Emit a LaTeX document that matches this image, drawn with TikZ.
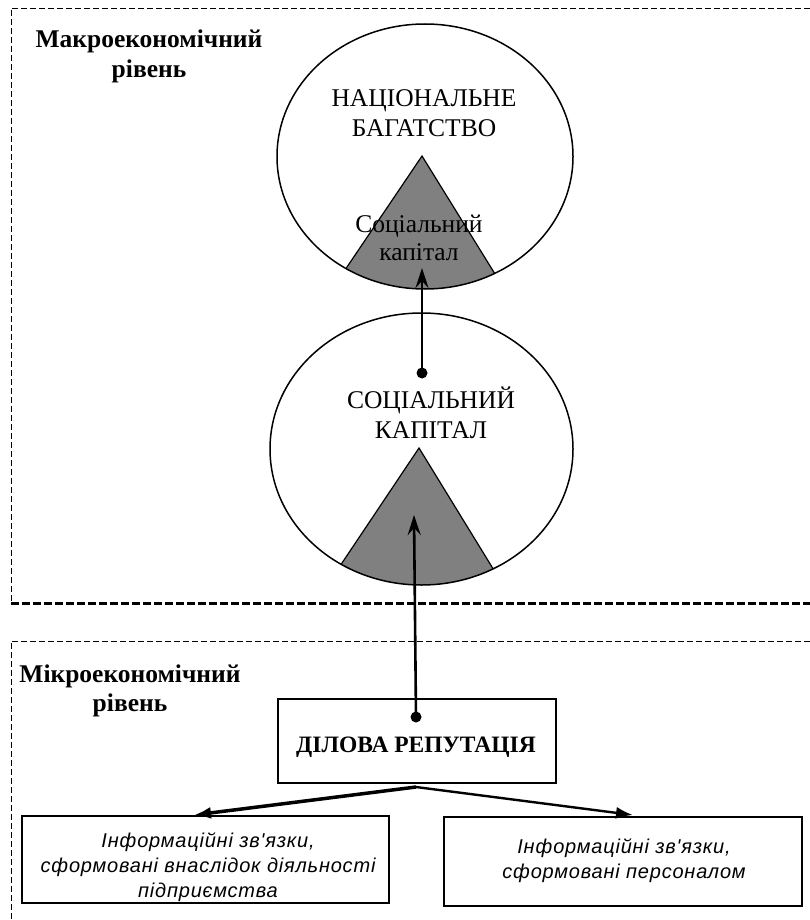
\documentclass[tikz,border=0pt]{standalone}
\usepackage{fontspec}
\setmainfont{Liberation Serif}
\newfontfamily\itsans[LetterSpace=4]{Liberation Sans Italic}
\usetikzlibrary{shapes.geometric,arrows.meta}
\begin{document}
\begin{tikzpicture}[x=1pt,y=-1pt,
  thindash/.style={line width=0.9pt, dash pattern=on 6pt off 3pt},
  thickdash/.style={line width=3pt, dash pattern=on 8pt off 3pt},
  bigell/.style={draw, ellipse, line width=1.5pt, inner sep=0pt},
  wedge/.style={fill=gray, draw=black, line width=1.2pt, line join=miter},
  dotnode/.style={circle, fill=black, inner sep=0pt, minimum size=11pt},
  uparrow/.style={line width=2.6pt, -{Stealth[length=20pt, width=13pt, inset=7pt]}},
  downarrow/.style={-{Latex[length=17pt, width=12pt]}},
  plainbox/.style={draw, line width=1.3pt, inner sep=0pt},
  levellabel/.style={font=\fontsize{25.5}{30}\selectfont\bfseries, align=center, anchor=base},
  serifcap/.style={font=\fontsize{25.5}{30}\selectfont, align=center, anchor=base},
  sanstext/.style={font=\itsans\fontsize{20}{25}\selectfont, align=center, anchor=base}
]
\useasboundingbox (0,0) rectangle (810,920);

% level frames
\draw[thindash] (810,8) -- (11,8) -- (11,603);
\draw[thickdash] (11,603) -- (810,603);
\draw[thindash] (810,641) -- (11,641) -- (11,920);

% level labels (anchor = baseline of the last line)
\node[levellabel] (macro) at (149,78) {Макроекономічний\\рівень};
\node[levellabel, font=\fontsize{25.5}{29}\selectfont\bfseries] (micro) at (130,711) {Мікроекономічний\\рівень};

% wedges clipped by the circles
\begin{scope}
  \clip (425,156.5) ellipse [x radius=148pt, y radius=132.5pt];
  \filldraw[wedge] (309.5,322.5) -- (422,156) -- (531.5,333) -- cycle;
\end{scope}
\begin{scope}
  \clip (421.5,449) ellipse [x radius=151.5pt, y radius=136pt];
  \filldraw[wedge] (303.5,620.5) -- (419,448) -- (528.5,626.5) -- cycle;
\end{scope}

% circles
\node[bigell, minimum width=296pt, minimum height=265pt] (wealth) at (425,156.5) {};
\node[bigell, minimum width=303pt, minimum height=272pt] (social) at (421.5,449) {};

% circle texts
\node[serifcap] (wealtht) at (424,137) {НАЦІОНАЛЬНЕ\\БАГАТСТВО};
\node[serifcap, font=\fontsize{25.5}{28.5}\selectfont] (wedget) at (419,260.5) {Соціальний\\капітал};
\node[serifcap] (socialt) at (431,438) {СОЦІАЛЬНИЙ\\КАПІТАЛ};

% business reputation box
\node[plainbox, minimum width=278pt, minimum height=84pt] (rep) at (417,741) {};
\node[font=\fontsize{23.5}{28}\selectfont\bfseries, anchor=base] (rept) at (416,752) {ДІЛОВА РЕПУТАЦІЯ};

% bottom boxes
\node[plainbox, minimum width=367pt, minimum height=87pt] (infoA) at (205.5,859.5) {};
\node[plainbox, minimum width=358pt, minimum height=89pt] (infoB) at (623,861.5) {};
\node[sanstext] (infoAt) at (208,897) {Інформаційні зв'язки,\\сформовані внаслідок діяльності\\підприємства};
\node[sanstext] (infoBt) at (624,878) {Інформаційні зв'язки,\\сформовані персоналом};

% vertical connectors
\node[dotnode] (d1) at (422,373) {};
\coordinate (tip1) at (422,268);
\draw[uparrow] (d1.center) -- (tip1);

\node[dotnode] (d2) at (416,717) {};
\coordinate (tip2) at (414,515);
\draw[uparrow] (d2.center) -- (tip2);

% fork to the bottom boxes
\coordinate (fork) at (416,787);
\coordinate (tipA) at (194,815);
\coordinate (tipB) at (633,815);
\draw[downarrow, line width=3.5pt] (fork) -- (tipA);
\draw[downarrow, line width=2.4pt] (fork) -- (tipB);
\end{tikzpicture}
\end{document}
